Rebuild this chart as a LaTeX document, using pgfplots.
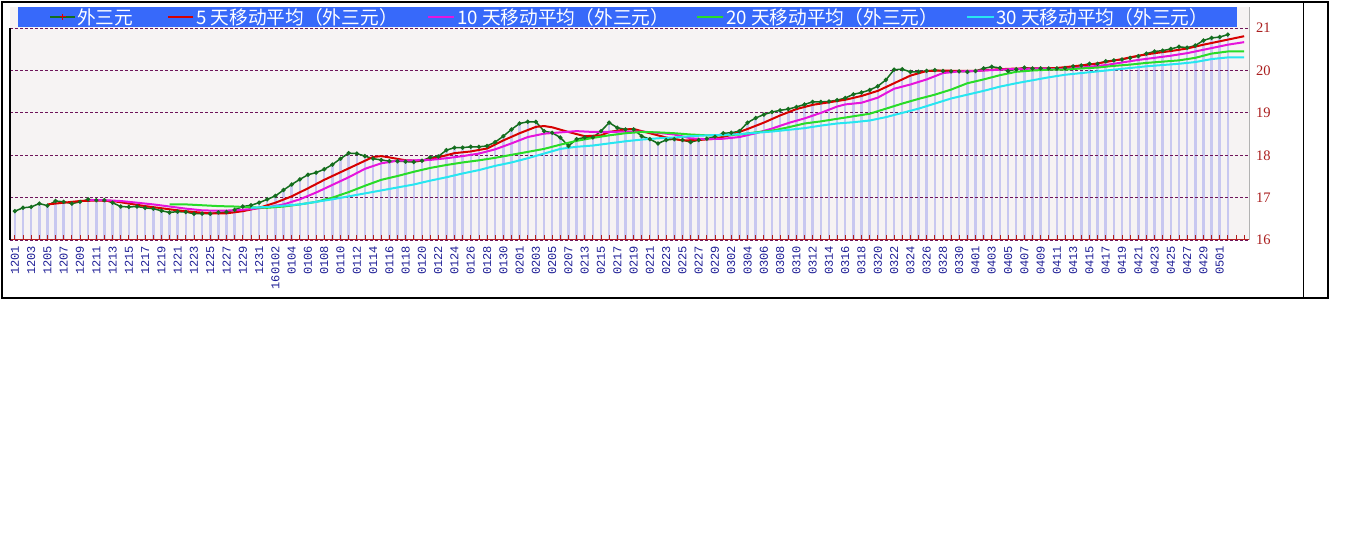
\documentclass[border=0pt]{standalone}
\usepackage{pgfplots}
\pgfplotsset{compat=1.18}
\usepackage{pgfplotstable}
\usepackage{fontspec}
\newfontfamily\cjk{Noto Sans CJK SC}
\newfontfamily\monof{Liberation Mono}
\newfontfamily\seriff{Liberation Serif}
\definecolor{bgcol}{RGB}{246,243,243}
\definecolor{legblue}{RGB}{55,105,250}
\definecolor{gridc}{RGB}{110,20,90}
\definecolor{tickred}{RGB}{180,30,30}
\definecolor{ylabc}{RGB}{170,30,30}
\definecolor{navylab}{RGB}{30,30,150}
\definecolor{pricegreen}{RGB}{20,110,30}
\definecolor{pricered}{RGB}{225,0,0}
\definecolor{mafivec}{RGB}{215,0,0}
\definecolor{matenc}{RGB}{230,20,220}
\definecolor{matwentyc}{RGB}{40,220,40}
\definecolor{mathirtyc}{RGB}{40,230,240}
\definecolor{barc}{RGB}{200,200,240}

\pgfplotstableread{
i v
0 16.68
1 16.76
2 16.78
3 16.86
4 16.81
5 16.92
6 16.90
7 16.86
8 16.90
9 16.96
10 16.94
11 16.94
12 16.88
13 16.79
14 16.78
15 16.79
16 16.76
17 16.74
18 16.69
19 16.65
20 16.67
21 16.66
22 16.62
23 16.62
24 16.62
25 16.65
26 16.66
27 16.71
28 16.79
29 16.82
30 16.88
31 16.96
32 17.04
33 17.18
34 17.31
35 17.43
36 17.54
37 17.59
38 17.67
39 17.78
40 17.92
41 18.05
42 18.04
43 17.98
44 17.92
45 17.89
46 17.86
47 17.86
48 17.85
49 17.84
50 17.87
51 17.95
52 17.97
53 18.12
54 18.18
55 18.18
56 18.20
57 18.20
58 18.22
59 18.31
60 18.45
61 18.61
62 18.75
63 18.79
64 18.79
65 18.57
66 18.53
67 18.42
68 18.22
69 18.38
70 18.42
71 18.42
72 18.57
73 18.77
74 18.65
75 18.61
76 18.61
77 18.45
78 18.38
79 18.28
80 18.36
81 18.38
82 18.36
83 18.31
84 18.36
85 18.39
86 18.44
87 18.52
88 18.53
89 18.57
90 18.77
91 18.88
92 18.96
93 19.02
94 19.06
95 19.09
96 19.14
97 19.20
98 19.26
99 19.26
100 19.27
101 19.30
102 19.35
103 19.44
104 19.48
105 19.54
106 19.63
107 19.78
108 20.02
109 20.03
110 19.97
111 19.97
112 19.99
113 20.01
114 19.99
115 19.98
116 19.98
117 19.97
118 19.99
119 20.05
120 20.09
121 20.06
122 19.99
123 20.03
124 20.07
125 20.05
126 20.05
127 20.05
128 20.05
129 20.06
130 20.10
131 20.12
132 20.16
133 20.16
134 20.22
135 20.24
136 20.26
137 20.30
138 20.34
139 20.40
140 20.45
141 20.47
142 20.51
143 20.56
144 20.54
145 20.59
146 20.71
147 20.77
148 20.79
149 20.85
}\price

\pgfplotstableread{
i v
4 16.84
6 16.88
8 16.92
10 16.93
12 16.92
14 16.86
16 16.80
18 16.75
20 16.70
22 16.66
24 16.63
26 16.63
28 16.68
30 16.76
32 16.88
34 17.03
36 17.22
38 17.42
40 17.60
42 17.78
44 17.96
45 17.98
46 17.95
48 17.88
50 17.87
52 17.95
54 18.05
56 18.09
58 18.16
60 18.35
62 18.52
64 18.67
65 18.69
66 18.66
68 18.55
70 18.45
72 18.47
73 18.55
75 18.61
76 18.62
78 18.52
80 18.42
82 18.35
84 18.36
86 18.39
88 18.48
90 18.62
92 18.77
94 18.94
96 19.09
98 19.19
100 19.25
102 19.31
104 19.40
106 19.52
108 19.70
110 19.88
112 19.99
114 20.00
116 19.99
118 19.99
120 20.02
122 20.04
124 20.05
126 20.05
128 20.06
130 20.10
132 20.14
134 20.20
136 20.27
138 20.35
140 20.41
142 20.46
144 20.52
146 20.61
148 20.69
149 20.73
151 20.81
}\mafive

\pgfplotstableread{
i v
9 16.94
11 16.94
13 16.92
15 16.88
17 16.84
19 16.79
21 16.74
23 16.70
25 16.69
27 16.70
29 16.73
31 16.77
33 16.84
35 16.96
37 17.12
39 17.30
41 17.48
43 17.68
45 17.81
47 17.87
49 17.88
51 17.89
53 17.93
55 17.98
57 18.04
59 18.14
61 18.28
63 18.43
65 18.51
67 18.54
69 18.57
71 18.55
73 18.55
75 18.56
77 18.56
79 18.53
81 18.49
83 18.40
85 18.38
87 18.39
89 18.43
91 18.52
93 18.63
95 18.76
97 18.87
99 19.00
101 19.15
102 19.20
104 19.24
106 19.36
108 19.57
110 19.67
112 19.79
114 19.94
116 19.98
118 19.99
120 20.01
122 20.03
124 20.04
126 20.05
128 20.03
130 20.05
132 20.09
134 20.13
136 20.19
138 20.25
140 20.30
142 20.35
144 20.41
146 20.49
148 20.57
149 20.61
151 20.67
}\maten

\pgfplotstableread{
i v
19 16.84
21 16.84
23 16.82
25 16.80
27 16.79
29 16.77
31 16.76
33 16.79
35 16.84
37 16.90
39 17.00
41 17.13
43 17.28
45 17.42
47 17.51
49 17.61
51 17.70
53 17.77
55 17.83
57 17.88
59 17.94
61 18.01
63 18.08
65 18.15
67 18.25
69 18.34
71 18.41
73 18.47
75 18.52
77 18.55
79 18.54
81 18.52
83 18.49
85 18.47
87 18.47
89 18.49
91 18.54
93 18.58
95 18.66
97 18.75
99 18.80
101 18.86
103 18.92
105 18.98
107 19.10
109 19.22
111 19.33
113 19.43
115 19.55
117 19.70
119 19.79
121 19.89
123 19.97
125 20.00
127 20.02
129 20.02
131 20.05
133 20.07
135 20.11
137 20.14
139 20.18
141 20.21
143 20.24
145 20.30
147 20.40
149 20.45
151 20.45
}\matwenty

\pgfplotstableread{
i v
29 16.76
31 16.78
33 16.81
35 16.84
37 16.90
39 16.96
41 17.03
43 17.10
45 17.17
47 17.24
49 17.31
51 17.40
53 17.48
55 17.57
57 17.65
59 17.75
61 17.83
63 17.93
65 18.04
67 18.15
69 18.20
71 18.23
73 18.28
75 18.33
77 18.37
79 18.40
81 18.42
83 18.45
85 18.47
87 18.48
89 18.50
91 18.53
93 18.56
95 18.60
97 18.64
99 18.70
101 18.75
103 18.78
105 18.82
107 18.90
109 19.00
111 19.10
113 19.22
115 19.34
117 19.43
119 19.52
121 19.62
123 19.70
125 19.77
127 19.84
129 19.90
131 19.94
133 19.98
135 20.02
137 20.06
139 20.10
141 20.13
143 20.16
145 20.20
147 20.27
149 20.31
151 20.31
}\mathirty

\pgfplotsset{geom/.style={
  at={(10bp,301bp)}, anchor=south west,
  scale only axis, width=1239bp, height=233bp,
  xmin=-0.6, xmax=151.6, ymin=16, ymax=21.5}}

\begin{document}
\begin{tikzpicture}[x=1bp,y=1bp]
\path[use as bounding box, fill=white] (0,0) rectangle (1348,541);
\begin{axis}[
  geom, axis on top,
  axis background/.style={fill=bgcol},
  axis x line*=bottom, axis y line*=right,
  x axis line style={draw=tickred, line width=1bp},
  y axis line style={draw=gray!60, line width=0.8bp},
  xtick={0,2,...,150}, minor xtick={1,3,...,151},
  xticklabels={1201,1203,1205,1207,1209,1211,1213,1215,1217,1219,1221,1223,1225,1227,1229,1231,160102,0104,0106,0108,0110,0112,0114,0116,0118,0120,0122,0124,0126,0128,0130,0201,0203,0205,0207,0213,0215,0217,0219,0221,0223,0225,0227,0229,0302,0304,0306,0308,0310,0312,0314,0316,0318,0320,0322,0324,0326,0328,0330,0401,0403,0405,0407,0409,0411,0413,0415,0417,0419,0421,0423,0425,0427,0429,0501,{}},
  xtick align=inside,
  major tick length=5bp, minor tick length=5bp,
  xtick style={draw=tickred, line width=0.8bp},
  minor x tick style={draw=tickred, line width=0.8bp},
  ytick={16,17,18,19,20,21}, yticklabels={16,17,18,19,20,21},
  ytick style={draw=none},
  ymajorgrids,
  major grid style={draw=gridc, dash pattern=on 3bp off 2bp, line width=0.8bp},
  xticklabel shift=6bp,
  xticklabel style={rotate=90, anchor=east, font=\monof\fontsize{12bp}{13bp}\selectfont, text=navylab, inner sep=0bp},
  yticklabel style={anchor=west, font=\seriff\fontsize{14.5bp}{15bp}\selectfont, text=ylabc, inner sep=0pt, xshift=7bp},
]
\addplot[ycomb, draw=barc, line width=2.5bp, mark=none] table[x=i,y=v]{\price};
\end{axis}
\begin{axis}[geom, hide axis]
\addplot[draw=pricegreen, line width=1.5bp, mark=*, mark size=1.3bp, mark options={fill=pricered, draw=none}] table[x=i,y=v]{\price};
\addplot[draw=mafivec, line width=2bp, mark=none] table[x=i,y=v]{\mafive};
\addplot[draw=matenc, line width=2bp, mark=none] table[x=i,y=v]{\maten};
\addplot[draw=matwentyc, line width=2bp, mark=none] table[x=i,y=v]{\matwenty};
\addplot[draw=mathirtyc, line width=2bp, mark=none] table[x=i,y=v]{\mathirty};
\end{axis}
% frame
\draw[black, line width=1.5bp] (2,539) rectangle (1328,243);
\draw[black, line width=1bp] (1303,539) -- (1303,243);
\draw[black, line width=1.2bp] (10,513) -- (10,301);
% legend
\fill[legblue] (18,534) rectangle (1237,514);
\begin{scope}[every node/.style={anchor=west, inner sep=0pt, text=white, font=\cjk\fontsize{18.7bp}{19bp}\selectfont}]
\draw[pricegreen, line width=2bp] (50,524) -- (75,524);
\draw[pricered, line width=1bp] (62.5,521) -- (62.5,527);
\draw[pricered, line width=1bp] (59.5,524) -- (65.5,524);
\node at (77,524) {外三元};
\draw[mafivec, line width=2bp] (168,524) -- (193,524);
\node at (196,524) {5 天移动平均（外三元）};
\draw[matenc, line width=2bp] (428,524) -- (454,524);
\node at (457,524) {10 天移动平均（外三元）};
\draw[matwentyc, line width=2bp] (697,524) -- (723,524);
\node at (726,524) {20 天移动平均（外三元）};
\draw[mathirtyc, line width=2bp] (967,524) -- (994,524);
\node at (996,524) {30 天移动平均（外三元）};
\end{scope}
\end{tikzpicture}
\end{document}
